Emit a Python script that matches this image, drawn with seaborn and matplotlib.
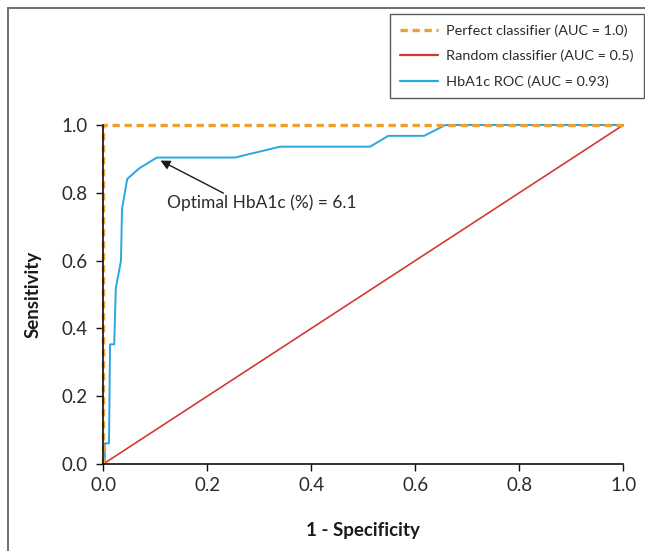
import matplotlib
matplotlib.use("Agg")
import matplotlib.pyplot as plt
from matplotlib.patches import Rectangle
from matplotlib.lines import Line2D
import seaborn as sns
import pandas as pd

# ROC coordinates (1 - specificity, sensitivity)
roc_fpr = [0.003, 0.003, 0.011, 0.013, 0.021, 0.024, 0.034, 0.036, 0.046, 0.069,
           0.103, 0.253, 0.340, 0.513, 0.548, 0.617, 0.658, 1.0]
roc_tpr = [0.0, 0.061, 0.061, 0.353, 0.353, 0.518, 0.600, 0.752, 0.841, 0.872,
           0.904, 0.904, 0.936, 0.936, 0.968, 0.968, 1.0, 1.0]

perfect_fpr = [0.0, 0.0, 1.0]
perfect_tpr = [0.0, 1.0, 1.0]

random_fpr = [0.0, 1.0]
random_tpr = [0.0, 1.0]

series_labels = ["Perfect classifier (AUC = 1.0)",
                 "Random classifier (AUC = 0.5)",
                 "HbA1c ROC (AUC = 0.93)"]

optimal_point = (0.11, 0.895)
optimal_label = "Optimal HbA1c (%) = 6.1"

ticks = [0.0, 0.2, 0.4, 0.6, 0.8, 1.0]

sns.set_theme(style="white")
plt.rcParams["font.family"] = ["Lato", "DejaVu Sans"]

W, H = 645, 551
fig = plt.figure(figsize=(W / 100, H / 100), dpi=100)
ax = fig.add_axes([103.3 / W, 1 - 464 / H, 520 / W, 339 / H])

orange = "#EFA032"
red = "#D23A34"
blue = "#2AA7DF"

df_perfect = pd.DataFrame({"fpr": perfect_fpr, "tpr": perfect_tpr})
df_random = pd.DataFrame({"fpr": random_fpr, "tpr": random_tpr})
df_roc = pd.DataFrame({"fpr": roc_fpr, "tpr": roc_tpr})

sns.lineplot(data=df_random, x="fpr", y="tpr", ax=ax, color=red, lw=1.2,
             sort=False, estimator=None, clip_on=False, zorder=2.1)
sns.lineplot(data=df_roc, x="fpr", y="tpr", ax=ax, color=blue, lw=1.4,
             sort=False, estimator=None, clip_on=False, zorder=2.2)
sns.lineplot(data=df_perfect, x="fpr", y="tpr", ax=ax, color=orange, lw=2.4,
             sort=False, estimator=None, clip_on=False, zorder=2.3,
             dashes=False, linestyle=(0, (2.2, 1.4)))

ax.set_xlim(0, 1)
ax.set_ylim(0, 1)
ax.set_xticks(ticks)
ax.set_yticks(ticks)
ax.set_xticklabels([f"{t:.1f}" for t in ticks])
ax.set_yticklabels([f"{t:.1f}" for t in ticks])

for side in ("top", "right"):
    ax.spines[side].set_visible(False)
for side in ("left", "bottom"):
    ax.spines[side].set_color("#111111")
    ax.spines[side].set_linewidth(1.2)

ax.tick_params(axis="both", which="major", direction="out", length=5,
               width=1.0, color="#111111", labelsize=13.5, labelcolor="#2b2b2b",
               bottom=True, left=True)
ax.tick_params(axis="x", pad=4.5)
ax.tick_params(axis="y", pad=6.5)

ax.set_xlabel("1 - Specificity", fontsize=13.5, fontweight="bold",
              color="#1a1a1a", labelpad=20)
ax.set_ylabel("Sensitivity", fontsize=13.5, fontweight="bold",
              color="#1a1a1a", labelpad=14)

ax.annotate("", xy=optimal_point, xytext=(0.231, 0.799),
            arrowprops=dict(arrowstyle="-|>", color="#1a1a1a", lw=1.0,
                            mutation_scale=14, shrinkA=0, shrinkB=0))
ax.text(0.122, 0.77, optimal_label, fontsize=12.5, color="#2b2b2b",
        ha="left", va="center")

handles = [
    Line2D([], [], color=orange, lw=2.4, linestyle=(0, (2.2, 1.4))),
    Line2D([], [], color=red, lw=1.6),
    Line2D([], [], color=blue, lw=1.6),
]
leg = ax.legend(handles, series_labels, loc="upper right",
                bbox_to_anchor=(644 / W, 1 - 14 / H),
                bbox_transform=fig.transFigure, borderaxespad=0,
                fontsize=10.4, frameon=True, fancybox=False,
                handlelength=2.6, handletextpad=0.58, labelspacing=0.9,
                borderpad=0.72)
leg.get_frame().set_edgecolor("#333333")
leg.get_frame().set_linewidth(1.0)
for t in leg.get_texts():
    t.set_color("#2b2b2b")

# outer frame line along the left and top edges
fig.patches.append(Rectangle((8 / W, -0.1), 2, 1.1 - 8 / H,
                             transform=fig.transFigure, fill=False,
                             edgecolor="#6e6e6e", lw=1.4))

fig.savefig("out.png", dpi=100)
